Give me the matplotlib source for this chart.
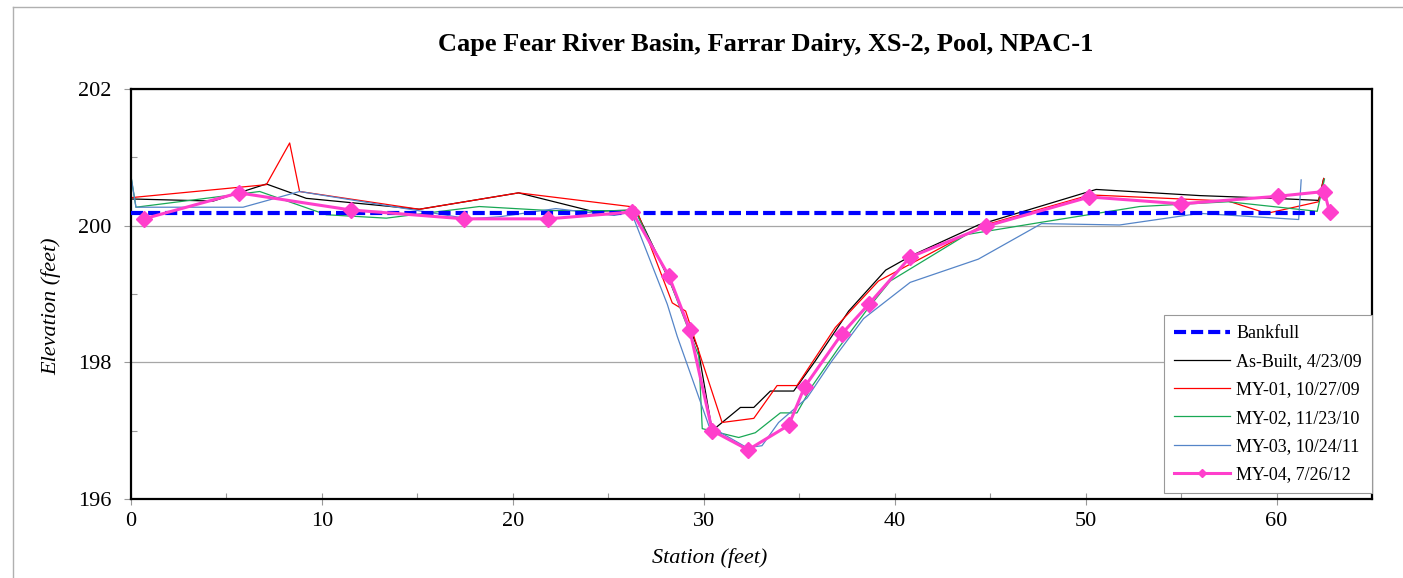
"""
Cross-section survey plot: Cape Fear River Basin, Farrar Dairy, XS-2, Pool.
"""

import matplotlib
matplotlib.use("Agg")
import matplotlib.pyplot as plt
from matplotlib.lines import Line2D
from matplotlib.ticker import MultipleLocator

# station (feet) / elevation (feet)
bankfull_x = [0.0, 62.0]
bankfull_y = [200.19, 200.19]

asbuilt_x = [0.0, 0.12, 4.3, 7.09, 9.18, 15.1, 20.3, 24.17, 26.43, 28.2, 29.7,
             30.44, 31.92, 32.62, 33.49, 34.71, 35.84, 37.59, 39.53, 40.87,
             44.38, 50.55, 55.98, 59.84, 62.2, 62.47]
asbuilt_y = [200.39, 200.39, 200.36, 200.61, 200.40, 200.24, 200.48, 200.21,
             200.23, 199.2, 198.2, 197.0, 197.34, 197.34, 197.58, 197.58,
             198.02, 198.75, 199.35, 199.56, 200.01, 200.53, 200.44, 200.40,
             200.37, 200.69]

my01_x = [0.0, 7.09, 8.31, 8.83, 15.1, 20.3, 26.43, 28.35, 29.05, 30.96, 32.62,
          33.84, 34.88, 36.89, 39.15, 44.6, 50.23, 57.47, 59.49, 62.2, 62.47]
my01_y = [200.41, 200.60, 201.21, 200.50, 200.24, 200.48, 200.27, 198.87,
          198.75, 197.12, 197.18, 197.66, 197.66, 198.51, 199.19, 200.0,
          200.45, 200.36, 200.18, 200.35, 200.69]

my02_x = [0.0, 0.26, 6.74, 10.23, 13.37, 18.24, 22.0, 26.4, 28.2, 29.74, 29.92,
          31.83, 32.7, 34.01, 34.88, 35.67, 37.06, 38.63, 39.77, 43.77, 47.69,
          52.83, 57.47, 62.13, 62.51]
my02_y = [200.72, 200.27, 200.50, 200.16, 200.11, 200.28, 200.22, 200.22,
          199.2, 198.09, 197.03, 196.90, 196.97, 197.26, 197.26, 197.65,
          198.21, 198.80, 199.19, 199.87, 200.05, 200.28, 200.35, 200.21, 200.68]

my03_x = [0.0, 0.26, 5.87, 8.83, 17.7, 19.3, 22.25, 25.3, 26.2, 28.09, 28.61,
          30.27, 32.27, 33.05, 33.92, 35.41, 36.71, 38.37, 40.81, 44.38, 47.69,
          51.78, 55.98, 61.16, 61.29]
my03_y = [200.72, 200.27, 200.27, 200.50, 200.10, 200.13, 200.25, 200.15,
          200.2, 198.85, 198.38, 197.07, 196.75, 196.78, 197.12, 197.48,
          198.02, 198.64, 199.17, 199.51, 200.03, 200.01, 200.18, 200.09, 200.67]

my04_x = [0.68, 5.65, 11.5, 17.46, 21.85, 26.26, 28.18, 29.26, 30.44, 32.32,
          34.45, 35.28, 37.24, 38.67, 40.81, 44.76, 50.2, 55.0, 60.06, 62.5, 62.78]
my04_y = [200.10, 200.48, 200.23, 200.10, 200.10, 200.20, 199.26, 198.48,
          197.0, 196.72, 197.08, 197.64, 198.42, 198.86, 199.54, 199.99,
          200.42, 200.32, 200.43, 200.50, 200.20]

plt.rcParams["font.family"] = ["Liberation Serif", "DejaVu Serif"]

W, H = 1403, 578
fig = plt.figure(figsize=(W / 100, H / 100), dpi=100)
ax = fig.add_axes([131 / W, 79 / H, 1241 / W, 410 / H])

ax.plot(bankfull_x, bankfull_y, color="#0000ff", lw=3.0, ls=(0, (2.9, 1.2)),
        label="Bankfull", zorder=3)
ax.plot(asbuilt_x, asbuilt_y, color="black", lw=0.9, label="As-Built, 4/23/09")
ax.plot(my01_x, my01_y, color="#ff0000", lw=0.9, label="MY-01, 10/27/09")
ax.plot(my02_x, my02_y, color="#19a855", lw=0.9, label="MY-02, 11/23/10")
ax.plot(my03_x, my03_y, color="#5585c8", lw=0.9, label="MY-03, 10/24/11")
ax.plot(my04_x, my04_y, color="#ff3fcc", lw=2.2, marker="D", ms=8,
        label="MY-04, 7/26/12", zorder=4)

ax.set_xlim(0, 65)
ax.set_ylim(196, 202)
ax.xaxis.set_major_locator(MultipleLocator(10))
ax.xaxis.set_minor_locator(MultipleLocator(5))
ax.yaxis.set_major_locator(MultipleLocator(2))
ax.yaxis.set_minor_locator(MultipleLocator(1))
ax.tick_params(axis="x", which="major", direction="inout", length=9, width=0.8,
               color="#999999", labelsize=16, pad=5)
ax.tick_params(axis="x", which="minor", direction="in", length=4, width=0.8,
               color="#999999")
ax.tick_params(axis="y", which="major", direction="out", length=5, width=0.8,
               color="#999999", labelsize=16, pad=9)
ax.tick_params(axis="y", which="minor", direction="in", length=4, width=0.8,
               color="#999999")
ax.grid(axis="y", which="major", color="#a6a6a6", lw=0.9)
ax.set_axisbelow(True)
for sp in ax.spines.values():
    sp.set_linewidth(1.6)

fig.text(710 / W, 1 - 558 / H, "Station (feet)", ha="center", va="center",
         fontsize=16, style="italic")
fig.text(51 / W, 1 - 306 / H, "Elevation (feet)", ha="center", va="center",
         rotation=90, fontsize=16, style="italic")
fig.text(766 / W, 1 - 45 / H, "Cape Fear River Basin, Farrar Dairy, XS-2, Pool, NPAC-1",
         ha="center", va="center", fontsize=19, fontweight="bold")

leg = ax.legend(loc="lower right", bbox_to_anchor=(1.0, 6 / 410), borderaxespad=0,
                fontsize=13, frameon=True, fancybox=False, edgecolor="#999999",
                framealpha=1, handlelength=3.1, handletextpad=0.35,
                labelspacing=0.62, borderpad=0.55, markerscale=0.55)
leg.get_frame().set_linewidth(0.8)

# outer chart-area border (gray, runs off the bottom/right of the image)
x0, y0 = 13 / W, 1 - 7 / H
fig.add_artist(Line2D([x0, 1.0], [y0, y0], transform=fig.transFigure,
                      color="#b0b0b0", lw=1.0))
fig.add_artist(Line2D([x0, x0], [0.0, y0], transform=fig.transFigure,
                      color="#b0b0b0", lw=1.0))

fig.savefig("out.png", dpi=100)
